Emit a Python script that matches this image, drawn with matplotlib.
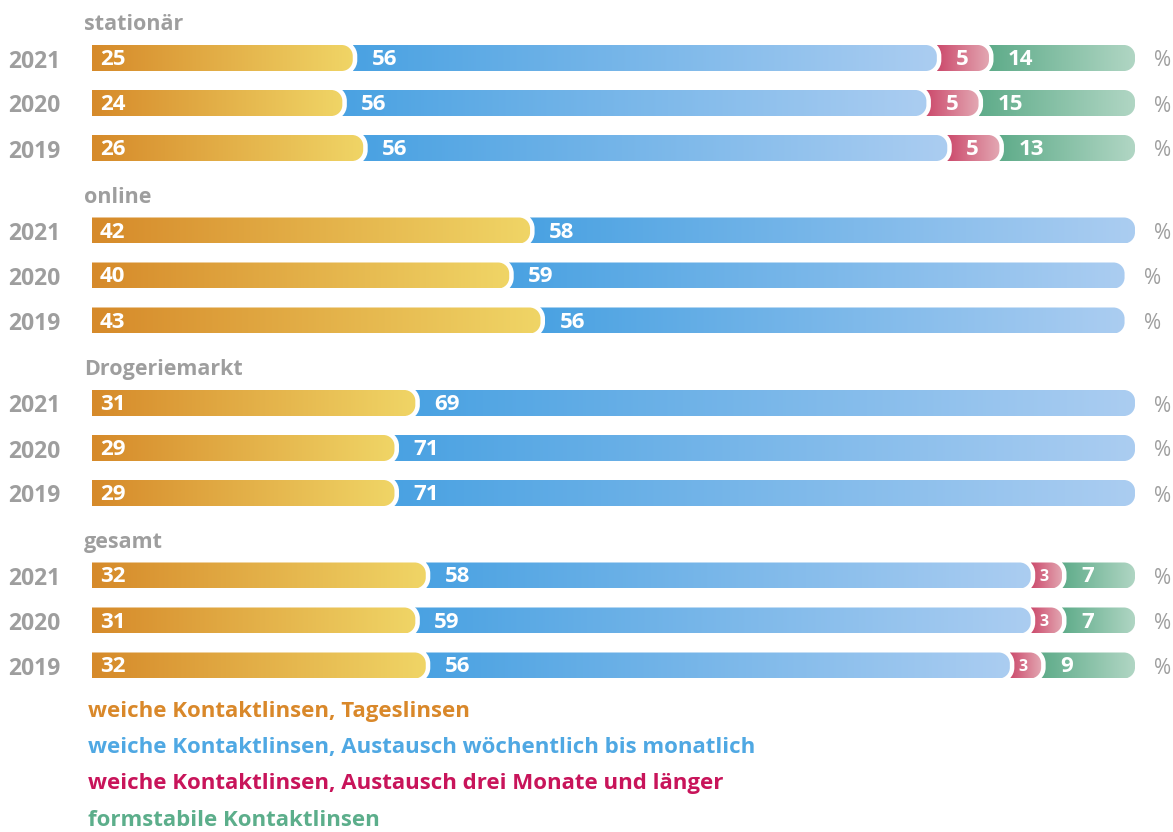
import numpy as np
import matplotlib
matplotlib.use("Agg")
import matplotlib.pyplot as plt
from matplotlib.path import Path
from matplotlib.patches import PathPatch
from matplotlib.colors import LinearSegmentedColormap

# ---------------- data ----------------
groups = ["stationär", "online", "Drogeriemarkt", "gesamt"]
years = ["2021", "2020", "2019"]
tageslinsen = [25, 24, 26, 42, 40, 43, 31, 29, 29, 32, 31, 32]
woechentlich = [56, 56, 56, 58, 59, 56, 69, 71, 71, 58, 59, 56]
drei_monate = [5, 5, 5, 0, 0, 0, 0, 0, 0, 3, 3, 3]
formstabil = [14, 15, 13, 0, 0, 0, 0, 0, 0, 7, 7, 9]
legend_labels = [
    "weiche Kontaktlinsen, Tageslinsen",
    "weiche Kontaktlinsen, Austausch wöchentlich bis monatlich",
    "weiche Kontaktlinsen, Austausch drei Monate und länger",
    "formstabile Kontaktlinsen",
]

# ---------------- styles ----------------
FONT = ["Open Sans", "DejaVu Sans"]
plt.rcParams["font.family"] = FONT
GRAY = "#9e9e9e"
grad_colors = [("#d68a2a", "#f0d566"), ("#4aa2e2", "#abcdf1"),
               ("#cc4a6c", "#e3a8b3"), ("#5fac8a", "#b1d6c4")]
legend_colors = ["#d9882a", "#4fa8e3", "#c8145a", "#5cae8b"]

W, H = 1173, 832
X0_PX, X100_PX = 92, 1135
sx = (X100_PX - X0_PX) / 100.0          # pixels per percent
fig = plt.figure(figsize=(W / 100, H / 100), dpi=100)
ax = fig.add_axes([0, 0, 1, 1])
ax.axis("off")


def px2x(px):
    return (px - X0_PX) / sx


first_row_y = 58
row_pitch = 45
group_pitch = 172.5
half_h = 13
rad = 11
k = 0.5523


def seg_path(xl, xr, yc):
    rx = rad / sx
    t, b = yc - half_h, yc + half_h
    verts = [(xl, t), (xr - rx, t),
             (xr - rx + k * rx, t), (xr, t + rad - k * rad), (xr, t + rad),
             (xr, b - rad),
             (xr, b - rad + k * rad), (xr - rx + k * rx, b), (xr - rx, b),
             (xl, b), (xl, t)]
    codes = [Path.MOVETO, Path.LINETO,
             Path.CURVE4, Path.CURVE4, Path.CURVE4,
             Path.LINETO,
             Path.CURVE4, Path.CURVE4, Path.CURVE4,
             Path.LINETO, Path.CLOSEPOLY]
    return Path(verts, codes)


series = [tageslinsen, woechentlich, drei_monate, formstabil]
grad = np.linspace(0, 1, 256).reshape(1, -1)

for gi, gname in enumerate(groups):
    gy = first_row_y + gi * group_pitch
    ax.text(px2x(84), gy - 33, gname, ha="left", va="center", fontsize=15.5,
            fontweight="bold", color=GRAY)
    for ri, yr in enumerate(years):
        idx = gi * 3 + ri
        yc = gy + ri * row_pitch
        ax.text(px2x(8), yc + 3.5, yr, ha="left", va="center", fontsize=16.5,
                fontweight="bold", color=GRAY)
        vals = [s[idx] for s in series]
        segs = []
        start = 0
        for si, v in enumerate(vals):
            if v > 0:
                segs.append((si, start, start + v, v))
                start += v
        n = len(segs)
        for j, (si, s0, s1, v) in enumerate(segs):
            xl = s0 if j == 0 else s0 - rad / sx
            z = 10 + (n - j) * 3
            path = seg_path(xl, s1, yc)
            halo = PathPatch(path, facecolor="white", edgecolor="white",
                             lw=6.5, zorder=z, transform=ax.transData)
            ax.add_patch(halo)
            clip = PathPatch(path, facecolor="none", edgecolor="none",
                             transform=ax.transData)
            ax.add_patch(clip)
            cmap = LinearSegmentedColormap.from_list("g%d" % si, grad_colors[si])
            im = ax.imshow(grad, cmap=cmap, aspect="auto",
                           extent=(s0, s1, yc + half_h, yc - half_h),
                           interpolation="bilinear", zorder=z + 1)
            im.set_clip_path(clip)
            small = v < 5
            off = (8 if j == 0 else (9 if small else 19)) / sx
            ax.text(s0 + off, yc + 1.5, str(v), ha="left", va="center",
                    fontsize=11.5 if small else 16, fontweight="bold",
                    color="white", zorder=100)
        ax.text(start + 19 / sx, yc + 3, "%", ha="left", va="center",
                fontsize=15, color=GRAY, zorder=100)

for li, lab in enumerate(legend_labels):
    ax.text(px2x(88), 712 + li * 36, lab, ha="left", va="center", fontsize=16,
            fontweight="bold", color=legend_colors[li])

ax.set_xlim(-X0_PX / sx, (W - X0_PX) / sx)
ax.set_ylim(H, 0)
fig.savefig("out.png", dpi=100)
